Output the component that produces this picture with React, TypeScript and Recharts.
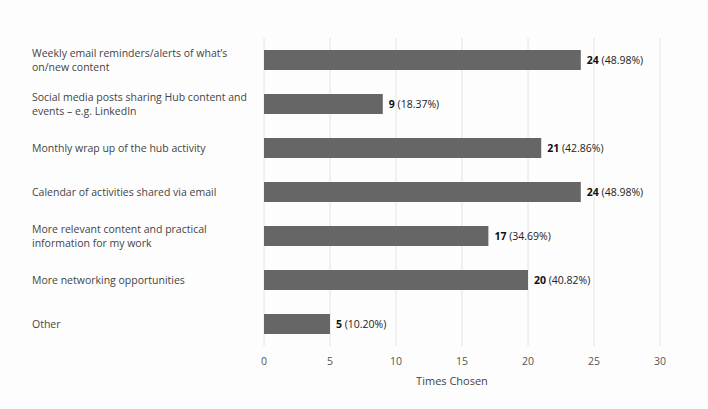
import React from 'react';
import { BarChart, Bar, XAxis, YAxis, CartesianGrid, LabelList } from 'recharts';

const categories = [
  "Weekly email reminders/alerts of what\u2019s on/new content",
  'Social media posts sharing Hub content and events \u2013 e.g. LinkedIn',
  'Monthly wrap up of the hub activity',
  'Calendar of activities shared via email',
  'More relevant content and practical information for my work',
  'More networking opportunities',
  'Other',
];
const counts = [24, 9, 21, 24, 17, 20, 5];
const percents = ['48.98%', '18.37%', '42.86%', '48.98%', '34.69%', '40.82%', '10.20%'];
const xTicks = [0, 5, 10, 15, 20, 25, 30];

const data = categories.map((name, i) => ({ name, count: counts[i], pct: percents[i] }));

const FONT = '"Open Sans", sans-serif';

// split a label into lines of at most maxChars characters
const wrap = (text: string, maxChars = 42) => {
  const lines: string[] = [];
  let line = '';
  text.split(' ').forEach((word) => {
    const next = line ? line + ' ' + word : word;
    if (next.length > maxChars && line) {
      lines.push(line);
      line = word;
    } else {
      line = next;
    }
  });
  if (line) lines.push(line);
  return lines;
};

const CategoryTick = ({ y, payload }: any) => {
  const lines = wrap(payload.value);
  const lineHeight = 14;
  const startY = y - ((lines.length - 1) * lineHeight) / 2;
  return (
    <text x={32} y={startY} fill="#444" fontSize={10.5} fontFamily={FONT} dominantBaseline="central">
      {lines.map((l, i) => (
        <tspan key={i} x={32} y={startY + i * lineHeight}>
          {l}
        </tspan>
      ))}
    </text>
  );
};

const ValueLabel = ({ x, y, width, height, index }: any) => (
  <text
    x={x + width + 6}
    y={y + height / 2}
    fontSize={10.5}
    fontFamily={FONT}
    fill="#222"
    dominantBaseline="central"
  >
    <tspan fontWeight="bold" fill="#111">{counts[index]}</tspan>
    <tspan> ({percents[index]})</tspan>
  </text>
);

export default function App() {
  return (
    <div style={{ position: 'fixed', left: 0, top: 0, width: 708, height: 409, background: '#fdfdfd' }}>
      <BarChart
        width={708}
        height={409}
        data={data}
        layout="vertical"
        margin={{ top: 38, right: 48, left: 32, bottom: 14 }}
        barCategoryGap={12}
      >
        <CartesianGrid horizontal={false} stroke="#e4e4e4" />
        <XAxis
          type="number"
          domain={[0, 30]}
          ticks={xTicks}
          axisLine={false}
          tickLine={false}
          tick={{ fill: '#555', fontSize: 10.5, fontFamily: FONT }}
          tickMargin={6}
          height={49}
          label={{
            value: 'Times Chosen',
            position: 'insideBottom',
            offset: 10,
            fill: '#444',
            fontSize: 11,
            fontFamily: FONT,
            dx: -10,
          }}
        />
        <YAxis
          type="category"
          dataKey="name"
          width={232}
          axisLine={false}
          tickLine={false}
          tick={<CategoryTick />}
          interval={0}
        />
        <Bar dataKey="count" fill="#666666" barSize={20} isAnimationActive={false}>
          <LabelList dataKey="count" content={<ValueLabel />} />
        </Bar>
      </BarChart>
    </div>
  );
}
